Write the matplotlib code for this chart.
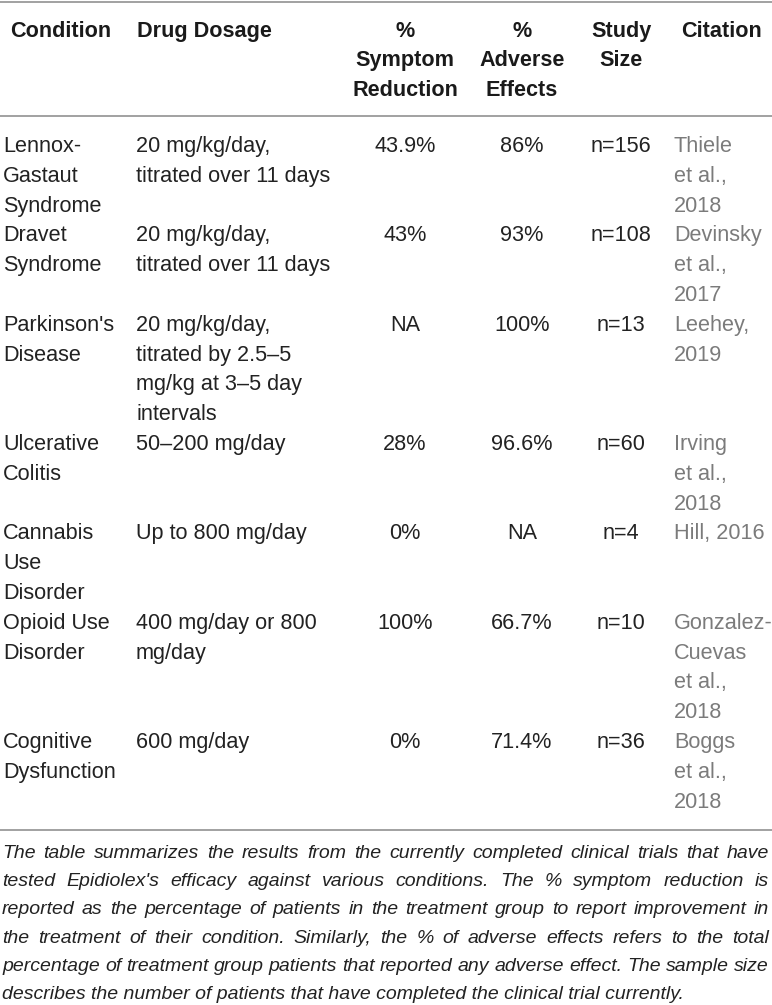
import matplotlib
matplotlib.use("Agg")
import matplotlib.pyplot as plt

# table content (line breaks as they appear in the cells)
headers = ["Condition", "Drug Dosage", "%\nSymptom\nReduction",
           "%\nAdverse\nEffects", "Study\nSize", "Citation"]
conditions = ["Lennox-\nGastaut\nSyndrome", "Dravet\nSyndrome",
              "Parkinson's\nDisease", "Ulcerative\nColitis",
              "Cannabis\nUse\nDisorder", "Opioid Use\nDisorder",
              "Cognitive\nDysfunction"]
dosages = ["20 mg/kg/day,\ntitrated over 11 days",
           "20 mg/kg/day,\ntitrated over 11 days",
           "20 mg/kg/day,\ntitrated by 2.5\u20135\nmg/kg at 3\u20135 day\nintervals",
           "50\u2013200 mg/day", "Up to 800 mg/day",
           "400 mg/day or 800\nmg/day", "600 mg/day"]
symptom_reduction = ["43.9%", "43%", "NA", "28%", "0%", "100%", "0%"]
adverse_effects = ["86%", "93%", "100%", "96.6%", "NA", "66.7%", "71.4%"]
study_size = ["n=156", "n=108", "n=13", "n=60", "n=4", "n=10", "n=36"]
citations = ["Thiele\net al.,\n2018", "Devinsky\net al.,\n2017", "Leehey,\n2019",
             "Irving\net al.,\n2018", "Hill, 2016",
             "Gonzalez-\nCuevas\net al.,\n2018", "Boggs\net al.,\n2018"]

caption = ("The table summarizes the results from the currently completed clinical trials that have|"
           "tested Epidiolex's efficacy against various conditions. The % symptom reduction is|"
           "reported as the percentage of patients in the treatment group to report improvement in|"
           "the treatment of their condition. Similarly, the % of adverse effects refers to the total|"
           "percentage of treatment group patients that reported any adverse effect. The sample size|"
           "describes the number of patients that have completed the clinical trial currently.")

W, H = 772, 1005
fig = plt.figure(figsize=(W / 100, H / 100), dpi=100)
ax = fig.add_axes([0, 0, 1, 1])
ax.set_xlim(0, W)
ax.set_ylim(H, 0)
ax.axis("off")

font = "Liberation Sans"
fs = 15.6
pitch = 29.8
line_col = "#9a9a9a"

# column anchors: (header x, body x, alignment)
cols = [(10, 3, "left"), (137, 136, "left"), (405, 405, "center"),
        (522, 522, "center"), (621, 621, "center"), (681, 674, "left")]

# rules
for y in (1.5, 116, 830):
    ax.plot([0, W], [y, y], color=line_col, lw=1.3, solid_capstyle="butt")

# header
for (hx, bx, ha), h in zip(cols, headers):
    for i, ln in enumerate(h.split("\n")):
        ax.text(hx, 36.5 + pitch * i, ln, ha=ha, va="baseline", fontsize=fs,
                family=font, fontweight="bold", color="#1a1a1a")

# body
rows = list(zip(conditions, dosages, symptom_reduction, adverse_effects,
                study_size, citations))
base = 152
line = 0
for row in rows:
    nmax = max(len(c.split("\n")) for c in row)
    for k, ((hx, bx, ha), cell) in enumerate(zip(cols, row)):
        color = "#7b7b7b" if k == 5 else "#222222"
        for i, ln in enumerate(cell.split("\n")):
            ax.text(bx, base + pitch * (line + i), ln, ha=ha, va="baseline",
                    fontsize=fs, family=font, color=color)
    line += nmax

# caption, justified
cap_lines = caption.split("|")
r = fig.canvas.get_renderer()


def width_of(s, size):
    t = ax.text(0, 0, s, fontsize=size, family=font, style="italic")
    w = t.get_window_extent(r).width
    t.remove()
    return w


cfs = 13.5
maxw = max(width_of(l, cfs) for l in cap_lines)
cfs = cfs * 767 / maxw
left, right = 2, 769
for i, ln in enumerate(cap_lines):
    y = 858 + 28.2 * i
    words = ln.split(" ")
    if i == len(cap_lines) - 1:
        ax.text(left, y, ln, ha="left", va="baseline", fontsize=cfs,
                family=font, style="italic", color="#222222")
        continue
    ws = [width_of(w, cfs) for w in words]
    gap = (right - left - sum(ws)) / (len(words) - 1)
    x = left
    for w, wd in zip(words, ws):
        ax.text(x, y, w, ha="left", va="baseline", fontsize=cfs,
                family=font, style="italic", color="#222222")
        x += wd + gap

fig.savefig("out.png", dpi=100, facecolor="white")
